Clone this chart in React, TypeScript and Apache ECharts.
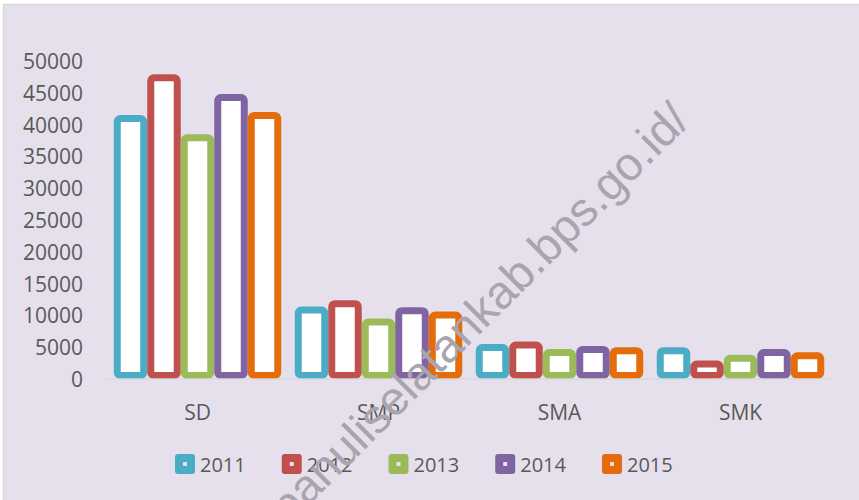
import React, { useEffect, useRef } from "react";
import * as echarts from "echarts";

const categories = ["SD", "SMP", "SMA", "SMK"];
const years = ["2011", "2012", "2013", "2014", "2015"];
const values2011 = [41500, 11400, 5500, 5000];
const values2012 = [47900, 12400, 5900, 2900];
const values2013 = [38500, 9500, 4700, 3800];
const values2014 = [44800, 11300, 5200, 4700];
const values2015 = [42000, 10600, 5000, 4200];
const seriesValues = [values2011, values2012, values2013, values2014, values2015];
const colors = ["#4BACC6", "#C0504D", "#9BBB59", "#8064A2", "#E46C0A"];
const watermark = "tapanuliselatankab.bps.go.id/";

const FONT = "'Open Sans', 'Liberation Sans', sans-serif";
const ICON =
  "path://M3,0H17Q20,0 20,3V17Q20,20 17,20H3Q0,20 0,17V3Q0,0 3,0Z M8,8V12H12V8Z";

export default function App() {
  const ref = useRef<HTMLDivElement>(null);
  useEffect(() => {
    document.body.style.margin = "0";
    const chart = echarts.init(ref.current!, null, { renderer: "svg" });
    chart.setOption({
      animation: false,
      backgroundColor: "#FFFFFF",
      graphic: [
        {
          type: "rect",
          z: -10,
          silent: true,
          shape: { x: 3.5, y: 4.5, width: 880, height: 520 },
          style: { fill: "#E6E0EC", stroke: "#D9D9D9", lineWidth: 1.5 },
        },
        {
          type: "text",
          z: 100,
          silent: true,
          x: 680,
          y: 111,
          rotation: Math.PI / 4,
          style: {
            text: watermark,
            fill: "#A9A4AE",
            font: "47px 'Liberation Sans', Arial, sans-serif",
            textAlign: "right",
            textVerticalAlign: "middle",
          },
        },
      ],
      grid: { left: 107, right: 28, top: 61, bottom: 121 },
      legend: {
        left: 175,
        top: 454,
        padding: 0,
        itemWidth: 20,
        itemHeight: 20,
        itemGap: 36,
        icon: ICON,
        textStyle: { color: "#595959", fontSize: 20, fontFamily: FONT },
        data: years.map((y, i) => ({
          name: y,
          itemStyle: { color: colors[i], borderWidth: 0 },
        })),
      },
      xAxis: {
        type: "category",
        data: categories,
        z: 10,
        axisLine: { show: true, lineStyle: { color: "#D9D9D9", width: 1.5 } },
        axisTick: { show: false },
        axisLabel: { color: "#595959", fontSize: 21, fontFamily: FONT, margin: 22 },
      },
      yAxis: {
        type: "value",
        min: 0,
        max: 50000,
        interval: 5000,
        axisLine: { show: false },
        axisTick: { show: false },
        splitLine: { show: false },
        axisLabel: {
          color: "#595959",
          fontSize: 21,
          fontFamily: FONT,
          margin: 24,
          formatter: (v: number) => String(v),
        },
      },
      series: years.map((y, i) => ({
        name: y,
        type: "bar",
        data: seriesValues[i],
        barWidth: 33.5,
        barGap: "0%",
        itemStyle: {
          color: "#FFFFFF",
          borderColor: colors[i],
          borderWidth: 7,
          borderRadius: 3,
        },
      })),
    });
    return () => chart.dispose();
  }, []);
  return <div ref={ref} style={{ width: 859, height: 500 }} />;
}
